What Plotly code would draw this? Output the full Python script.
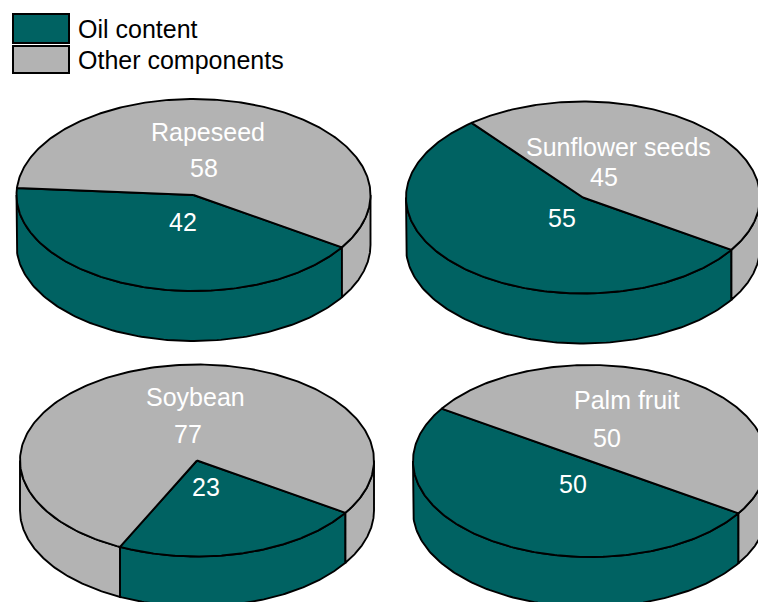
import numpy as np
import plotly.graph_objects as go

# ---------------- data ----------------
pie_names = ["Rapeseed", "Sunflower seeds", "Soybean", "Palm fruit"]
oil_content = [42, 55, 23, 50]
other_components = [58, 45, 77, 50]
series_names = ["Oil content", "Other components"]

# ---------------- layout / style constants ----------------
W, H = 758, 602
COLORS = ["#006262", "#B3B3B3"]
CENTERS = [(193.5, 195.0), (583.0, 197.5), (197.0, 460.5), (590.0, 461.0)]
TITLE_POS = [(208, 131.5), (618.5, 147), (195, 397), (627, 400)]
A, B, DEPTH = 177.0, 96.0, 50.0
START_DEG = 33.0
LABEL_KX, LABEL_KY = 32.0, 28.0
FONT = "Liberation Sans, Arial, sans-serif"
FSIZE = 25
LW = 1.9

fig = go.Figure()


def ell(cx, cy, t_deg, dy=0.0):
    t = np.radians(t_deg)
    return cx + A * np.cos(t), cy + B * np.sin(t) + dy


annotations = []
side_traces, top_traces = [], []
for i, name in enumerate(pie_names):
    cx, cy = CENTERS[i]
    vals = [oil_content[i], other_components[i]]
    total = float(sum(vals))
    s = START_DEG
    for k, v in enumerate(vals):
        e = s + 360.0 * v / total
        col = COLORS[k]
        # visible front side (sin t > 0)
        for base in (0.0, 360.0):
            lo, hi = max(s, base), min(e, base + 180.0)
            if hi > lo:
                t = np.linspace(lo, hi, 120)
                xt, yt = ell(cx, cy, t)
                xb, yb = ell(cx, cy, t[::-1], DEPTH)
                xs = np.concatenate([xt, xb, xt[:1]])
                ys = np.concatenate([yt, yb, yt[:1]])
                side_traces.append(go.Scatter(
                    x=xs, y=ys, mode="lines", fill="toself", fillcolor=col,
                    line=dict(color="black", width=LW), hoverinfo="skip",
                    showlegend=False))
        # top wedge
        t = np.linspace(s, e, 240)
        xa, ya = ell(cx, cy, t)
        xs = np.concatenate([[cx], xa, [cx]])
        ys = np.concatenate([[cy], ya, [cy]])
        top_traces.append(go.Scatter(
            x=xs, y=ys, mode="lines", fill="toself", fillcolor=col,
            line=dict(color="black", width=LW), hoverinfo="skip",
            showlegend=False))
        # value label
        mid = np.radians((s + e) / 2.0)
        annotations.append(dict(
            x=cx + LABEL_KX * np.cos(mid), y=cy + LABEL_KY * np.sin(mid),
            xref="x", yref="y", text=str(v), showarrow=False,
            xanchor="center", yanchor="middle",
            font=dict(family=FONT, size=FSIZE, color="white")))
        s = e
    tx, ty = TITLE_POS[i]
    annotations.append(dict(
        x=tx, y=ty, xref="x", yref="y", text=name, showarrow=False,
        xanchor="center", yanchor="middle",
        font=dict(family=FONT, size=FSIZE, color="white")))

for tr in side_traces + top_traces:
    fig.add_trace(tr)

# ---------------- legend (manual) ----------------
shapes = []
LEG_BOXES = [(13, 14, 69, 43), (13, 46, 69, 73)]
for k, sname in enumerate(series_names):
    x0, y0, x1, y1 = LEG_BOXES[k]
    shapes.append(dict(type="rect", xref="x", yref="y", x0=x0, y0=y0,
                       x1=x1, y1=y1, fillcolor=COLORS[k],
                       line=dict(color="black", width=2)))
    annotations.append(dict(
        x=76, y=(y0 + y1) / 2.0, xref="x", yref="y", text=sname,
        showarrow=False, xanchor="left", yanchor="middle",
        font=dict(family=FONT, size=FSIZE, color="black")))

fig.update_layout(
    width=W, height=H,
    margin=dict(l=0, r=0, t=0, b=0, pad=0),
    paper_bgcolor="white", plot_bgcolor="white",
    xaxis=dict(range=[0, W], visible=False, fixedrange=True),
    yaxis=dict(range=[H, 0], visible=False, fixedrange=True),
    showlegend=False,
    shapes=shapes,
    annotations=annotations,
)

fig.write_html("out.html")
